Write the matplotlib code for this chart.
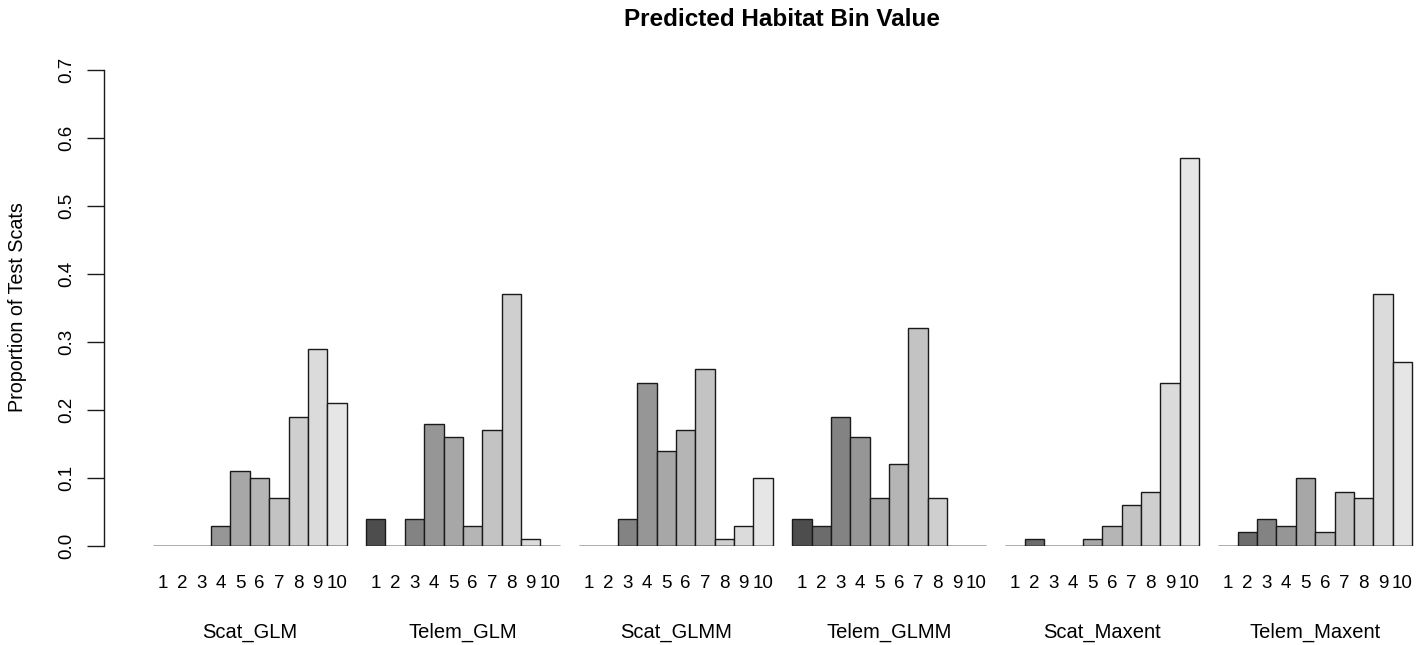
import numpy as np
import matplotlib
matplotlib.use("Agg")
import matplotlib.pyplot as plt

plt.rcParams['font.family'] = ['Liberation Sans', 'DejaVu Sans']

models = ['Scat_GLM', 'Telem_GLM', 'Scat_GLMM', 'Telem_GLMM', 'Scat_Maxent', 'Telem_Maxent']
bins = ['1', '2', '3', '4', '5', '6', '7', '8', '9', '10']

scat_glm = [0, 0, 0, 0.03, 0.11, 0.10, 0.07, 0.19, 0.29, 0.21]
telem_glm = [0.04, 0, 0.04, 0.18, 0.16, 0.03, 0.17, 0.37, 0.01, 0]
scat_glmm = [0, 0, 0.04, 0.24, 0.14, 0.17, 0.26, 0.01, 0.03, 0.10]
telem_glmm = [0.04, 0.03, 0.19, 0.16, 0.07, 0.12, 0.32, 0.07, 0, 0]
scat_maxent = [0, 0.01, 0, 0, 0.01, 0.03, 0.06, 0.08, 0.24, 0.57]
telem_maxent = [0, 0.02, 0.04, 0.03, 0.10, 0.02, 0.08, 0.07, 0.37, 0.27]

series = [scat_glm, telem_glm, scat_glmm, telem_glmm, scat_maxent, telem_maxent]

# R gray.colors(10)
grays = ['#4D4D4D', '#6C6C6C', '#838383', '#969696', '#A7A7A7',
         '#B5B5B5', '#C3C3C3', '#CFCFCF', '#DBDBDB', '#E6E6E6']

W, H = 1427, 645
fig = plt.figure(figsize=(W / 100, H / 100), dpi=100)
ax = fig.add_axes([104 / W, (H - 546) / H, (W - 104) / W, (546 - 70) / H])

n = len(bins)
for g, vals in enumerate(series):
    start = g * (n + 1)
    xs = start + np.arange(n)
    ax.bar(xs, vals, width=1.0, align='edge', color=grays,
           edgecolor='#1a1a1a', linewidth=1.0, zorder=2)
    ax.hlines(0, start, start + n, color='#1a1a1a', linewidth=1.0, zorder=3)
    for x, lab in zip(xs + 0.5, bins):
        ax.text(x, -0.0798, lab, transform=ax.get_xaxis_transform(),
                ha='center', va='center', fontsize=13.5)
    ax.text(start + n / 2, -0.1807, models[g], transform=ax.get_xaxis_transform(),
            ha='center', va='center', fontsize=14.5)

ax.set_xlim(-2.53, 65.77)
ax.set_ylim(0, 0.7)
ax.set_yticks(np.arange(0, 0.71, 0.1))
ax.set_yticklabels([f'{v:.1f}' for v in np.arange(0, 0.71, 0.1)],
                   rotation=90, va='center', fontsize=13.5)
ax.tick_params(axis='y', length=12, width=1.0, pad=9, color='#1a1a1a')
ax.set_xticks([])
for s in ['top', 'right', 'bottom']:
    ax.spines[s].set_visible(False)
ax.spines['left'].set_linewidth(1.0)
ax.spines['left'].set_color('#1a1a1a')

fig.text(782 / W, 1 - 20 / H, 'Predicted Habitat Bin Value', ha='center',
         va='center', fontsize=17.5, fontweight='bold')
fig.text(18 / W, 1 - 307 / H, 'Proportion of Test Scats', rotation=90,
         ha='center', va='center', fontsize=14.2)

fig.savefig('out.png', dpi=100, facecolor='white')
